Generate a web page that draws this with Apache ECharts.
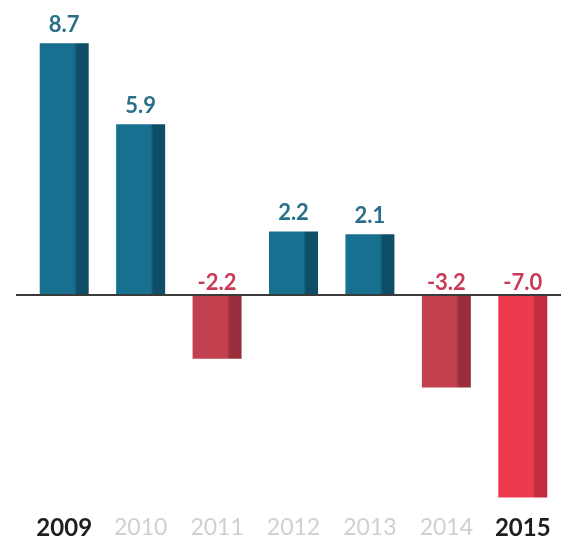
<!DOCTYPE html>
<html>
<head>
<meta charset="utf-8">
<script src="https://cdn.jsdelivr.net/npm/echarts@6/dist/echarts.min.js"></script>
<style>html,body{margin:0;padding:0;background:#fff}#c{width:561px;height:544px}</style>
</head>
<body>
<div id="c"></div>
<script>
var years = ['2009','2010','2011','2012','2013','2014','2015'];
var values = [8.7, 5.9, -2.2, 2.2, 2.1, -3.2, -7.0];
var highlightYears = ['2009','2015'];

function barGrad(main, dark) {
  return new echarts.graphic.LinearGradient(0, 0, 1, 0, [
    {offset: 0, color: main},
    {offset: 0.7, color: main},
    {offset: 0.76, color: dark},
    {offset: 1, color: dark}
  ]);
}
var blue = barGrad('#17708f', '#0f4e67');
var red = barGrad('#c3404f', '#982e3b');
var brightRed = barGrad('#ee3a4e', '#c22c3e');

var data = values.map(function (v, i) {
  var isLast = i === values.length - 1;
  var color = v >= 0 ? blue : (isLast ? brightRed : red);
  var labelColor = v >= 0 ? '#2a6f8a' : '#c93a55';
  return {
    value: v,
    itemStyle: {color: color},
    label: {color: labelColor, distance: v >= 0 ? 7 : 1}
  };
});

var chart = echarts.init(document.getElementById('c'));
chart.setOption({
  animation: false,
  grid: {left: 26, right: -1, top: 26, height: 486, containLabel: false},
  xAxis: {
    type: 'category',
    data: years,
    position: 'bottom',
    axisLine: {show: false},
    axisTick: {show: false},
    axisLabel: {
      interval: 0,
      margin: 4,
      formatter: function (v) {
        return highlightYears.indexOf(v) >= 0 ? '{b|' + v + '}' : '{n|' + v + '}';
      },
      rich: {
        b: {fontFamily: 'Lato', fontWeight: 'bold', fontSize: 24, color: '#1e1e1e'},
        n: {fontFamily: 'Lato', fontWeight: 'normal', fontSize: 23, color: '#d0d0d0'}
      }
    }
  },
  yAxis: {
    type: 'value',
    min: -7.5,
    max: 9.3,
    show: false,
    splitLine: {show: false}
  },
  series: [{
    type: 'bar',
    data: data,
    barWidth: 49,
    label: {
      show: true,
      position: 'top',
      fontFamily: 'Lato',
      fontWeight: 'bold',
      fontSize: 22,
      formatter: function (p) { return p.value.toFixed(1); }
    }
  }]
});

var zeroY = chart.convertToPixel({yAxisIndex: 0}, 0);
chart.setOption({
  graphic: [{
    type: 'line',
    z: 100,
    shape: {x1: 16, y1: zeroY, x2: 561, y2: zeroY},
    style: {stroke: '#3a3a3a', lineWidth: 2}
  }]
});
</script>
</body>
</html>
